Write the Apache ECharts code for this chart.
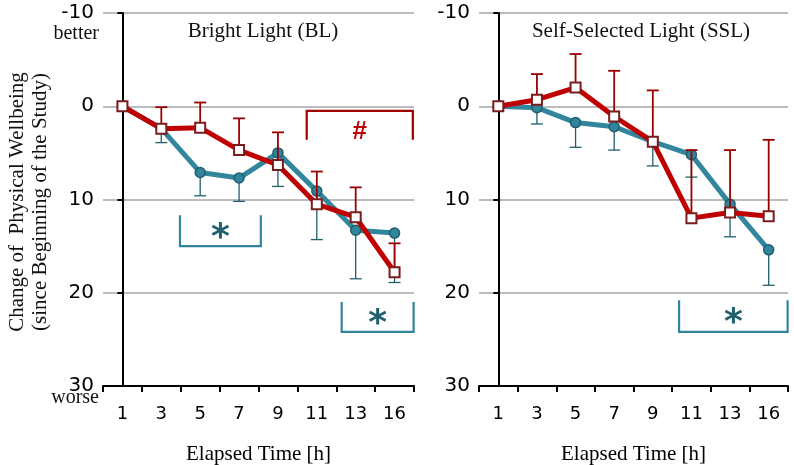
<!DOCTYPE html>
<html><head><meta charset="utf-8">
<script src="https://cdn.jsdelivr.net/npm/echarts@6/dist/echarts.min.js"></script>
<style>html,body{margin:0;padding:0;background:#fff}#c{width:794px;height:465px}</style>
</head><body><div id="c"></div>
<script>
// ---- data ----
const categories = ['1','3','5','7','9','11','13','16'];
const yTicks = [-10, 0, 10, 20, 30];

// Bright Light (BL) panel
const blRed   = [0, 2.4, 2.3, 4.7, 6.3, 10.5, 11.9, 17.8];
const blRedErr = [null, 2.3, 2.7, 3.4, 3.5, 3.5, 3.2, 3.1];   // drawn upward (toward better)
const blTeal  = [0, 2.4, 7.1, 7.7, 5.0, 9.1, 13.3, 13.6];
const blTealErr = [null, 1.5, 2.5, 2.5, 3.6, 5.2, 5.2, 5.3];  // drawn downward

// Self-Selected Light (SSL) panel
const sslRed  = [0, -0.7, -2.0, 1.1, 3.8, 12.0, 11.4, 11.8];
const sslRedErr = [null, 2.75, 3.6, 4.9, 5.5, 7.3, 6.7, 8.2];
const sslTeal = [0, 0.15, 1.75, 2.2, 3.8, 5.2, 10.5, 15.4];
const sslTealErr = [null, 1.75, 2.65, 2.5, 2.6, 2.4, 3.5, 3.8];

// significance brackets: [xStart, xEnd (category index units), yOpen, yClosed, labelY, label, kind]
const blBrackets = [
  [1.48, 3.56, 11.7, 15.0, 13.6, '*', 'teal'],
  [5.64, 7.49, 21.0, 24.2, 22.8, '*', 'teal'],
  [4.74, 7.47, 3.6, 0.5, 2.6, '#', 'red']
];
const sslBrackets = [
  [4.68, 7.49, 20.8, 24.2, 22.7, '*', 'teal']
];

// ---- styles ----
const TEAL = '#31859c', TEAL_DARK = '#215e6e', RED = '#c00000', RED_DARK = '#7a1c1c', RED_ERR = '#9b0000';
const SERIF = '"Liberation Serif", "DejaVu Serif", serif';
const SANS = '"DejaVu Sans", sans-serif';

function xCat(gi) {
  return {
    type: 'category', gridIndex: gi, data: categories, boundaryGap: true,
    axisLine: {show: true, onZero: false, lineStyle: {color: '#000', width: 2}},
    axisTick: {show: true, length: 6, lineStyle: {color: '#000', width: 2}},
    axisLabel: {color: '#000', fontSize: 18, fontFamily: SANS, margin: 19},
    name: 'Elapsed Time [h]', nameLocation: 'middle', nameGap: 58,
    nameTextStyle: {color: '#000', fontSize: 21, fontFamily: SERIF}
  };
}
function xVal(gi) {
  return {type: 'value', gridIndex: gi, min: -0.5, max: 7.5, show: false};
}
function yAx(gi) {
  return {
    type: 'value', gridIndex: gi, inverse: true, min: yTicks[0], max: yTicks[yTicks.length - 1], interval: 10,
    axisLine: {show: true, lineStyle: {color: '#000', width: 2}},
    axisTick: {show: true, length: 5, lineStyle: {color: '#000', width: 2}},
    axisLabel: {color: '#000', fontSize: 20, fontFamily: SANS, margin: 9},
    splitLine: {show: true, lineStyle: {color: '#a6a6a6', width: 1.5}}
  };
}

function lineSeries(xi, yi, data, kind) {
  const teal = kind === 'teal';
  return {
    type: 'line', xAxisIndex: xi, yAxisIndex: yi, data: data,
    symbol: teal ? 'circle' : 'rect', symbolSize: 10,
    z: teal ? 3 : 5,
    lineStyle: {color: teal ? TEAL : RED, width: 5},
    itemStyle: teal ? {color: TEAL, borderColor: TEAL_DARK, borderWidth: 1.5}
                    : {color: '#fff', borderColor: RED_DARK, borderWidth: 2},
    animation: false, silent: true
  };
}

function errSeries(xi, yi, vals, errs, dir, color, width, z) {
  const data = [];
  vals.forEach((v, i) => { if (errs[i] != null) data.push([i, v, v + dir * errs[i]]); });
  return {
    type: 'custom', xAxisIndex: xi, yAxisIndex: yi, z: z, silent: true, animation: false,
    data: data,
    renderItem: (params, api) => {
      const p0 = api.coord([api.value(0), api.value(1)]);
      const p1 = api.coord([api.value(0), api.value(2)]);
      const hw = 6;
      return {
        type: 'group', children: [
          {type: 'line', shape: {x1: p0[0], y1: p0[1], x2: p1[0], y2: p1[1]}, style: {stroke: color, lineWidth: width}},
          {type: 'line', shape: {x1: p1[0] - hw, y1: p1[1], x2: p1[0] + hw, y2: p1[1]}, style: {stroke: color, lineWidth: width}}
        ]
      };
    }
  };
}

function bracketSeries(xi, yi, brackets) {
  return {
    type: 'custom', xAxisIndex: xi, yAxisIndex: yi, z: 2, silent: true, animation: false,
    data: brackets.map(b => [b[0], b[1], b[2], b[3], b[4], b[6] === 'red' ? 1 : 0]),
    renderItem: (params, api) => {
      const x0 = api.value(0), x1 = api.value(1), yo = api.value(2), yc = api.value(3), ly = api.value(4);
      const red = api.value(5) === 1;
      const label = brackets[params.dataIndex][5];
      const a = api.coord([x0, yo]), b = api.coord([x0, yc]), c = api.coord([x1, yc]), d = api.coord([x1, yo]);
      const m = api.coord([(x0 + x1) / 2, ly]);
      const col = red ? '#a00000' : TEAL;
      return {
        type: 'group', children: [
          {type: 'polyline', shape: {points: [a, b, c, d]}, style: {stroke: col, lineWidth: 2.2, fill: null}},
          {type: 'text', x: m[0], y: m[1] + (red ? 1 : 6),
           style: {text: label, fill: red ? RED : TEAL_DARK, align: 'center', verticalAlign: 'middle',
                   font: red ? 'bold 26px "Liberation Sans", sans-serif' : 'bold 36px "DejaVu Sans", sans-serif'}}
        ]
      };
    }
  };
}

const chart = echarts.init(document.getElementById('c'), null, {renderer: 'canvas'});
chart.setOption({
  animation: false,
  backgroundColor: '#fff',
  title: [
    {text: 'Bright Light (BL)', left: 258, top: 16, textAlign: 'center',
     textStyle: {fontFamily: SERIF, fontSize: 21, fontWeight: 'normal', color: '#111'}},
    {text: 'Self-Selected Light (SSL)', left: 636, top: 16, textAlign: 'center',
     textStyle: {fontFamily: SERIF, fontSize: 21, fontWeight: 'normal', color: '#111'}}
  ],
  grid: [
    {left: 103, top: 13, width: 311, height: 373, containLabel: false, outerBoundsMode: 'none'},
    {left: 479, top: 13, width: 309, height: 373, containLabel: false, outerBoundsMode: 'none'}
  ],
  xAxis: [xCat(0), xCat(1), xVal(0), xVal(1)],
  yAxis: [yAx(0), yAx(1)],
  graphic: [
    {type: 'text', x: 29, y: 202, rotation: Math.PI / 2, z: 10,
     style: {text: 'Change of  Physical Wellbeing\n(since Beginning of the Study)', fill: '#111',
             font: '21px "Liberation Serif", serif', align: 'center', verticalAlign: 'middle', lineHeight: 23}},
    {type: 'text', x: 99, y: 34, style: {text: 'better', fill: '#111', font: '20px "Liberation Serif", serif', align: 'right', verticalAlign: 'middle'}},
    {type: 'text', x: 99, y: 398, style: {text: 'worse', fill: '#111', font: '20px "Liberation Serif", serif', align: 'right', verticalAlign: 'middle'}}
  ],
  series: [
    bracketSeries(2, 0, blBrackets),
    lineSeries(0, 0, blTeal, 'teal'),
    errSeries(0, 0, blTeal, blTealErr, 1, TEAL_DARK, 1.3, 2),
    lineSeries(0, 0, blRed, 'red'),
    errSeries(0, 0, blRed, blRedErr, -1, RED_ERR, 1.8, 4),

    bracketSeries(3, 1, sslBrackets),
    lineSeries(1, 1, sslTeal, 'teal'),
    errSeries(1, 1, sslTeal, sslTealErr, 1, TEAL_DARK, 1.3, 2),
    lineSeries(1, 1, sslRed, 'red'),
    errSeries(1, 1, sslRed, sslRedErr, -1, RED_ERR, 1.8, 4)
  ]
});
</script></body></html>
